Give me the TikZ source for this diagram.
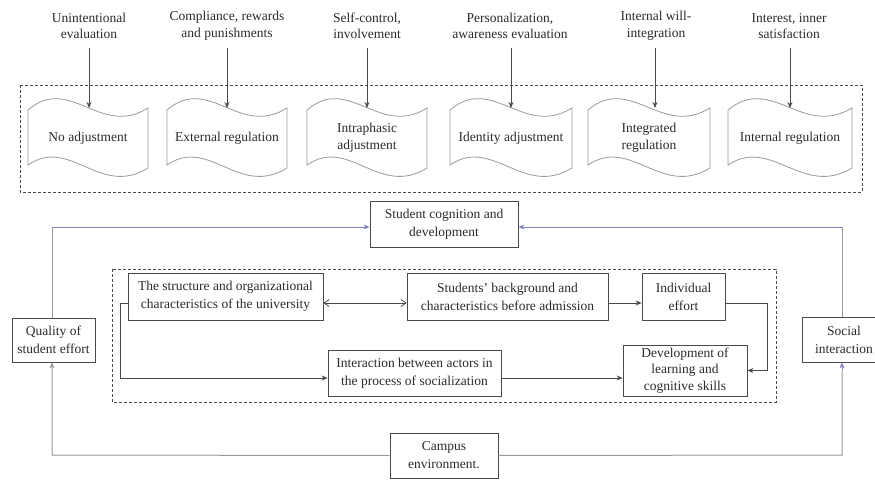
\documentclass[tikz,border=0pt]{standalone}
\usepackage{fontspec}
\setmainfont{Liberation Serif}
\usetikzlibrary{arrows.meta,calc}
\definecolor{ln}{HTML}{4A4A4A}
\definecolor{lg}{HTML}{9A9A9A}
\definecolor{lb}{HTML}{7F7FC4}
\definecolor{tx}{HTML}{2A2A2A}
\tikzset{
  lbl/.style={align=center,text=tx,font=\fontsize{13.5}{16.5}\selectfont,inner sep=1pt},
  bx/.style={draw=ln,line width=0.8pt,align=center,text=tx,font=\fontsize{13.5}{18}\selectfont,inner sep=1pt},
  tapetext/.style={align=center,text=tx,font=\fontsize{13.5}{16.5}\selectfont,inner sep=1pt},
  arr/.style={draw=ln,line width=0.8pt,-{Stealth[length=6pt,width=5pt]}},
  arrg/.style={draw=lg,line width=1pt,-{Stealth[length=6pt,width=5pt]}},
  dbox/.style={draw=ln,line width=0.7pt,dash pattern=on 3pt off 2pt},
  tapeline/.style={draw=lg,line width=0.8pt},
}
\newcommand{\mytape}[5]{% name, L, R, text, text y
  \draw[tapeline] (#2,110) .. controls ({#2+0.35*(#3-#2)},74) and ({#2+0.6*(#3-#2)},138) .. (#3,108)
     -- (#3,168) .. controls ({#2+0.6*(#3-#2)},198) and ({#2+0.35*(#3-#2)},136) .. (#2,165) -- cycle;
  \coordinate (#1top) at ({(#2+#3)/2},108);
  \node[tapetext] (#1) at ({(#2+#3)/2},#5) {#4};
}
\begin{document}
\begin{tikzpicture}[x=1pt,y=-1pt]
\useasboundingbox (0,0) rectangle (875,481);
% top dashed frame
\draw[dbox] (20,85) rectangle (862,192);
% tapes
\mytape{t1}{28}{148}{No adjustment}{138}
\mytape{t2}{167}{287}{External regulation}{138}
\mytape{t3}{307}{427}{Intraphasic\\adjustment}{138}
\mytape{t4}{450}{572}{Identity adjustment}{138}
\mytape{t5}{588}{710}{Integrated\\regulation}{138}
\mytape{t6}{728}{852}{Internal regulation}{138}
% top labels
\node[lbl] (l1) at (89,26) {Unintentional\\evaluation};
\node[lbl] (l2) at (227,26) {Compliance, rewards\\and punishments};
\node[lbl] (l3) at (367,26) {Self-control,\\involvement};
\node[lbl] (l4) at (510,26) {Personalization,\\awareness evaluation};
\node[lbl] (l5) at (656,26) {Internal will-\\integration};
\node[lbl] (l6) at (789,26) {Interest, inner\\satisfaction};
\coordinate (a1) at (89,48); \coordinate (a2) at (227,48); \coordinate (a3) at (367,48);
\coordinate (a4) at (511,48); \coordinate (a5) at (655,48); \coordinate (a6) at (790,48);
\draw[arr] (a1) -- (a1 |- t1top);
\draw[arr] (a2) -- (a2 |- t2top);
\draw[arr] (a3) -- (a3 |- t3top);
\draw[arr] (a4) -- (a4 |- t4top);
\draw[arr] (a5) -- (a5 |- t5top);
\draw[arr] (a6) -- (a6 |- t6top);
% lower part
\draw[dbox] (112,269) rectangle (776,402);
\node[bx,minimum width=148pt,minimum height=46pt] (cog) at (444,224) {Student cognition and\\development};
\node[bx,minimum width=83pt,minimum height=44pt] (qual) at (53.5,340) {Quality of\\student effort};
\node[bx,minimum width=84pt,minimum height=45pt] (soc) at (844,339.5) {Social\\interaction};
\node[bx,minimum width=108pt,minimum height=45pt] (camp) at (444,455.5) {Campus\\environment.};
\node[bx,minimum width=195pt,minimum height=47pt] (str) at (225.5,296.5) {The structure and organizational\\characteristics of the university};
\node[bx,minimum width=201pt,minimum height=47pt] (bg) at (507.5,296.5) {Students' background and\\characteristics before admission};
\node[bx,minimum width=83pt,minimum height=47pt] (ind) at (683.5,296.5) {Individual\\effort};
\node[bx,minimum width=173pt,minimum height=46pt] (int) at (414.5,373) {Interaction between actors in\\the process of socialization};
\node[bx,minimum width=124pt,minimum height=51pt,font=\fontsize{13.5}{16.5}\selectfont] (dev) at (685,370.5) {Development of\\learning and\\cognitive skills};
% connectors
\draw[draw=ln,line width=0.8pt,{Straight Barb[length=5pt,width=7pt]}-{Straight Barb[length=5pt,width=7pt]}] ([yshift=-6.5pt]str.east) -- ([yshift=-6.5pt]bg.west);
\draw[arr] ([yshift=-6.5pt]bg.east) -- ([yshift=-6.5pt]ind.west);
\coordinate (rc) at (767,303);
\draw[arr] ([yshift=-6.5pt]ind.east) -- (rc) |- (dev.east);
\coordinate (lc) at (120,303);
\draw[arr] ([yshift=-6.5pt]str.west) -- (lc) |- ([yshift=-5pt]int.west);
\draw[arr] ([yshift=-5pt]int.east) -- ([yshift=-7.5pt]dev.west);
% outer loop
\coordinate (ql) at (52,227);
\coordinate (qr) at (842,227);
\draw[draw=lg,line width=1pt] (qual.north -| ql) -- (ql);
\draw[draw=lb,line width=1pt,-{Stealth[length=6pt,width=5pt]}] (ql) -- ([yshift=-3pt]cog.west);
\draw[draw=lg,line width=1pt] (soc.north -| qr) -- (qr);
\draw[draw=lb,line width=1pt,-{Stealth[length=6pt,width=5pt]}] (qr) -- ([yshift=-3pt]cog.east);
\coordinate (bl) at (52,455);
\coordinate (br) at (842,455);
\draw[arrg] (camp.west) -- (bl) -- (qual.south -| bl);
\draw[draw=lg,line width=1pt] (camp.east) -- (br) -- ([yshift=-8pt]soc.south -| br);
\draw[draw=lb,line width=1pt,-{Stealth[length=6pt,width=5pt]}] ([yshift=-8pt]soc.south -| br) -- (soc.south -| br);
\end{tikzpicture}
\end{document}
